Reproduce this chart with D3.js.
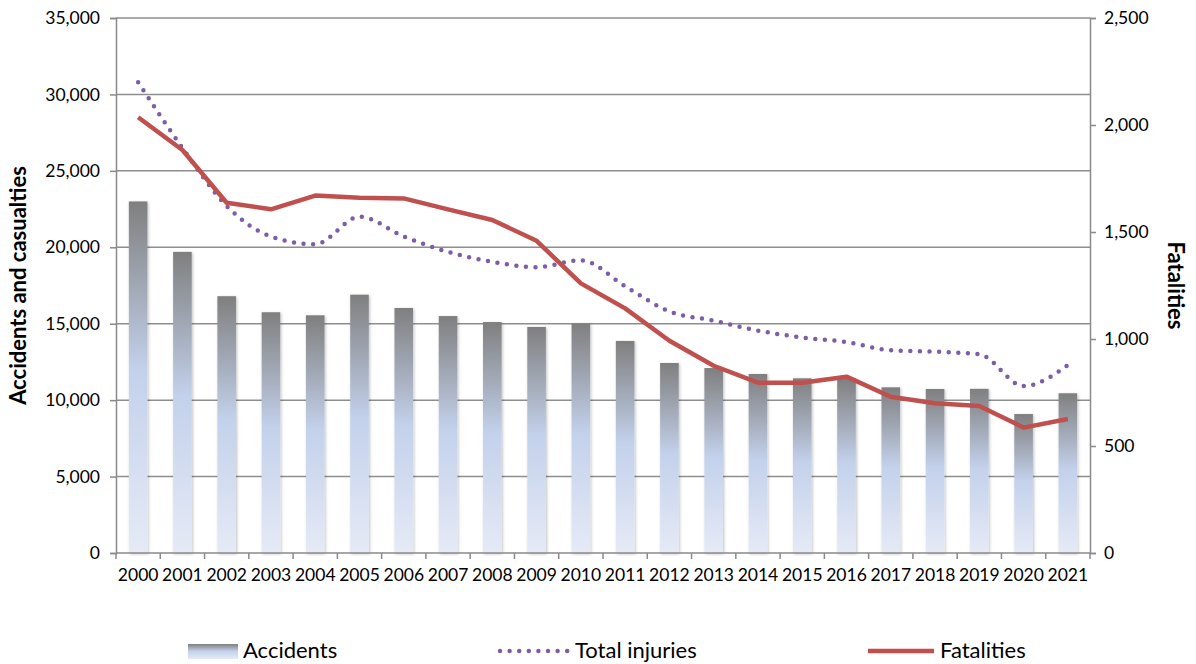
<!DOCTYPE html>
<html lang="en">
<head>
<meta charset="UTF-8">
<title>Accidents and casualties</title>
<script src="https://d3js.org/d3.v7.min.js"></script>
<style>
  body { margin: 0; background: #fff; }
  text { font-family: Lato, "Open Sans", sans-serif; fill: #000; }
</style>
</head>
<body>
<svg></svg>
<script>
const years = ["2000","2001","2002","2003","2004","2005","2006","2007","2008","2009","2010",
               "2011","2012","2013","2014","2015","2016","2017","2018","2019","2020","2021"];
const accidents = [23000, 19700, 16800, 15750, 15550, 16900, 16030, 15500, 15110, 14790, 15020,
                   13870, 12430, 12100, 11710, 11430, 11420, 10840, 10730, 10740, 9090, 10450];
const injuries = [30800, 26500, 22700, 20700, 20200, 22000, 20700, 19700, 19050, 18700, 19150,
                  17450, 15800, 15200, 14550, 14100, 13800, 13260, 13170, 13000, 10920, 12300];
const fatalities = [2036, 1883, 1637, 1606, 1670, 1660, 1657, 1606, 1556, 1459, 1260,
                    1143, 992, 875, 796, 796, 824, 730, 700, 687, 586, 626];
const leftTicks = [0, 5000, 10000, 15000, 20000, 25000, 30000, 35000];
const rightTicks = [0, 500, 1000, 1500, 2000, 2500];

const width = 1196, height = 664;
const mLeft = 116, mRight = 1090, mTop = 18, mBottom = 553;

const svg = d3.select("svg").attr("width", width).attr("height", height);
const defs = svg.append("defs");

const grad = defs.append("linearGradient").attr("id", "barGrad")
  .attr("x1", 0).attr("y1", 0).attr("x2", 0).attr("y2", 1);
grad.append("stop").attr("offset", "0%").attr("stop-color", "#7f7f7f");
grad.append("stop").attr("offset", "48%").attr("stop-color", "#c3d1eb");
grad.append("stop").attr("offset", "100%").attr("stop-color", "#e6eaf6");

const shadow = defs.append("filter").attr("id", "shadow")
  .attr("x", "-30%").attr("y", "-5%").attr("width", "160%").attr("height", "110%");
shadow.append("feDropShadow").attr("dx", 1).attr("dy", 1).attr("stdDeviation", 1.5)
  .attr("flood-color", "#000").attr("flood-opacity", 0.25);

const x = d3.scaleBand().domain(years).range([mLeft, mRight]).paddingInner(0.58).paddingOuter(0.29);
const xc = d => x(d) + x.bandwidth() / 2;
const yL = d3.scaleLinear().domain([0, 35000]).range([mBottom, mTop]);
const yR = d3.scaleLinear().domain([0, 2500]).range([mBottom, mTop]);

// gridlines
svg.append("g").selectAll("line").data(leftTicks.slice(1)).join("line")
  .attr("x1", mLeft).attr("x2", mRight)
  .attr("y1", d => yL(d)).attr("y2", d => yL(d))
  .attr("stroke", "#8e8e8e").attr("stroke-width", 1.5);

// bars
svg.append("g").selectAll("rect").data(years).join("rect")
  .attr("x", d => x(d))
  .attr("y", (d, i) => yL(accidents[i]))
  .attr("width", x.bandwidth())
  .attr("height", (d, i) => mBottom - yL(accidents[i]))
  .attr("fill", "url(#barGrad)")
  .attr("filter", "url(#shadow)");

// axes
const axisColor = "#8a8a8a";
const gL = svg.append("g").attr("transform", `translate(${mLeft},0)`)
  .call(d3.axisLeft(yL).tickValues(leftTicks).tickSize(6).tickPadding(10).tickFormat(d3.format(",")));
const gR = svg.append("g").attr("transform", `translate(${mRight},0)`)
  .call(d3.axisRight(yR).tickValues(rightTicks).tickSize(6).tickPadding(8).tickFormat(d3.format(",")));
const gB = svg.append("g").attr("transform", `translate(0,${mBottom})`)
  .call(d3.axisBottom(x).tickSize(0).tickPadding(16));
// category separators
gB.append("g").selectAll("line").data(d3.range(years.length + 1)).join("line")
  .attr("x1", i => mLeft + i * (mRight - mLeft) / years.length)
  .attr("x2", i => mLeft + i * (mRight - mLeft) / years.length)
  .attr("y1", 0).attr("y2", 6).attr("stroke", axisColor).attr("stroke-width", 1.5);

[gL, gR, gB].forEach(g => {
  g.select(".domain").attr("stroke", axisColor).attr("stroke-width", 1.5);
  g.selectAll(".tick line").attr("stroke", axisColor).attr("stroke-width", 1.5);
  g.selectAll(".tick text").style("font-size", "17.5px").attr("fill", "#000");
});
gB.select(".domain").attr("d", `M${mLeft},0H${mRight}`);

// injuries dotted line
const lineL = d3.line().x((d, i) => xc(years[i])).y(d => yL(d)).curve(d3.curveMonotoneX);
svg.append("path").datum(injuries)
  .attr("d", lineL)
  .attr("fill", "none").attr("stroke", "#7c5ea6").attr("stroke-width", 4.5)
  .attr("stroke-linecap", "round").attr("stroke-dasharray", "0 9.6");

// fatalities line
const lineR = d3.line().x((d, i) => xc(years[i])).y(d => yR(d));
svg.append("path").datum(fatalities)
  .attr("d", lineR)
  .attr("fill", "none").attr("stroke", "#c0504d").attr("stroke-width", 4.5)
  .attr("stroke-linejoin", "round");

// axis titles
svg.append("text").attr("transform", `translate(26,${(mTop + mBottom) / 2}) rotate(-90)`)
  .attr("text-anchor", "middle").style("font-size", "22px").style("font-weight", "bold")
  .text("Accidents and casualties");
svg.append("text").attr("transform", `translate(1168,${(mTop + mBottom) / 2}) rotate(90)`)
  .attr("text-anchor", "middle").style("font-size", "22px").style("font-weight", "bold")
  .text("Fatalities");

// legend
const lg = svg.append("g").style("font-size", "22px");
lg.append("rect").attr("x", 188).attr("y", 644).attr("width", 50).attr("height", 15)
  .attr("fill", "url(#barGrad)");
lg.append("text").attr("x", 243).attr("y", 658).text("Accidents");
lg.append("line").attr("x1", 500).attr("x2", 570).attr("y1", 651).attr("y2", 651)
  .attr("stroke", "#7c5ea6").attr("stroke-width", 4.5).attr("stroke-linecap", "round")
  .attr("stroke-dasharray", "0 9.6");
lg.append("text").attr("x", 575).attr("y", 658).text("Total injuries");
lg.append("line").attr("x1", 868).attr("x2", 934).attr("y1", 651).attr("y2", 651)
  .attr("stroke", "#c0504d").attr("stroke-width", 4.5);
lg.append("text").attr("x", 940).attr("y", 658).text("Fatalities");
</script>
</body>
</html>
